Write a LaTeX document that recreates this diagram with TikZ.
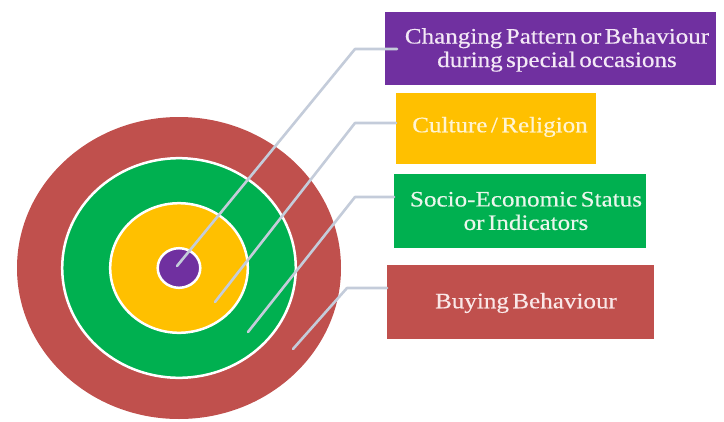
\documentclass[tikz,border=0pt]{standalone}
\usepackage{fontspec}
\setmainfont[FakeStretch=1.14,WordSpace=0.55,FakeBold=0.4]{Liberation Serif}
\usetikzlibrary{calc}
\definecolor{cpurple}{HTML}{7030A0}
\definecolor{cyellow}{HTML}{FFC000}
\definecolor{cgreen}{HTML}{00B050}
\definecolor{cred}{HTML}{C0504D}
\definecolor{cline}{HTML}{C4CCDA}
\definecolor{tpurple}{HTML}{F3E8F6}
\definecolor{tyellow}{HTML}{FFF4D2}
\definecolor{tgreen}{HTML}{EAF6EC}
\definecolor{tred}{HTML}{FAE8E8}
\begin{document}
\begin{tikzpicture}[x=1pt,y=-1pt,
  boxnode/.style={draw=none, anchor=north west, inner sep=0pt},
  lbl/.style={inner sep=0pt, align=center, font=\fontsize{22}{23.5}\selectfont},
  ring/.style={draw=white, line width=2.5pt},
  leader/.style={draw=cline, line width=2.6pt, line cap=round, line join=round}]
\useasboundingbox (0,0) rectangle (724,421);
% target
\coordinate (ctr) at (179,268);
\fill[cred] (ctr) ellipse [x radius=162, y radius=151];
\path[ring, fill=cgreen] (ctr) ellipse [x radius=116.8, y radius=109.8];
\path[ring, fill=cyellow] (ctr) ellipse [x radius=68.8, y radius=64.8];
\path[ring, fill=cpurple] (ctr) ellipse [x radius=21.3, y radius=19.8];
% boxes
\node[boxnode, fill=cpurple, minimum width=331pt, minimum height=73pt] (pbox) at (385,12) {};
\node[boxnode, fill=cyellow, minimum width=200pt, minimum height=71pt] (ybox) at (396,93) {};
\node[boxnode, fill=cgreen, minimum width=252pt, minimum height=74pt] (gbox) at (394,174) {};
\node[boxnode, fill=cred, minimum width=267pt, minimum height=74pt] (rbox) at (387,265) {};
% labels
\node[lbl, text=tpurple] (ptxt) at (557,50) {Changing Pattern or Behaviour\\during special occasions};
\node[lbl, text=tyellow] (ytxt) at (500,127) {Culture / Religion};
\node[lbl, text=tgreen] (gtxt) at (526,211) {Socio-Economic Status\\or Indicators};
\node[lbl, text=tred] (rtxt) at (526,303) {Buying Behaviour};
% leader lines
\coordinate (pb) at (355,49);  \coordinate (pe) at (177,266);
\coordinate (yb) at (355,123); \coordinate (ye) at (215,302);
\coordinate (gb) at (355,197); \coordinate (ge) at (248,332);
\coordinate (rb) at (347,288); \coordinate (re) at (293,349);
\draw[leader] ([xshift=12pt]pbox.west |- pb) -- (pb) -- (pe);
\draw[leader] (ybox.west |- yb) -- (yb) -- (ye);
\draw[leader] (gbox.west |- gb) -- (gb) -- (ge);
\draw[leader] (rbox.west |- rb) -- (rb) -- (re);
\end{tikzpicture}
\end{document}
